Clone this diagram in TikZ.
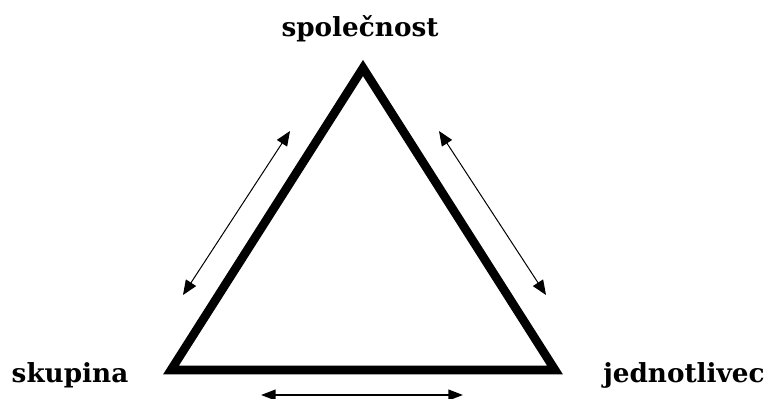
\documentclass[tikz,border=0pt]{standalone}
\usepackage{fontspec}
\setmainfont{DejaVu Serif}
\usetikzlibrary{arrows.meta}

\begin{document}
\begin{tikzpicture}[x=0.75pt, y=-0.75pt,
    corner/.style={font=\bfseries\fontsize{19.7}{23}\selectfont, anchor=base, inner sep=0pt},
    side/.style={line width=6.5pt, line join=miter},
    link/.style={{Triangle[length=11pt,width=9pt]}-{Triangle[length=11pt,width=9pt]}, line width=0.75pt},
    biglink/.style={{Triangle[length=11pt,width=8pt]}-{Triangle[length=11pt,width=8pt]}, line width=1.5pt}
]
    \useasboundingbox (0,0) rectangle (769,399);

    % corners of the triangle
    \coordinate (top) at (363,68);
    \coordinate (left) at (171,370);
    \coordinate (right) at (555,370);
    \draw[side] (top) -- (right) -- (left) -- cycle;

    \node[corner] (spol) at (360,37) {společnost};
    \node[corner] (skup) at (70,383) {skupina};
    \node[corner] (jedn) at (684,383) {jednotlivec};

    % arrows along the sides
    \coordinate (l1) at (290,131);
    \coordinate (l2) at (183,295);
    \coordinate (r1) at (439,131);
    \coordinate (r2) at (546,295);
    \coordinate (b1) at (261,395);
    \coordinate (b2) at (463,395);

    \draw[link] (l1) -- (l2);
    \draw[link] (r1) -- (r2);
    \draw[biglink] (b1) -- (b2);
\end{tikzpicture}
\end{document}
